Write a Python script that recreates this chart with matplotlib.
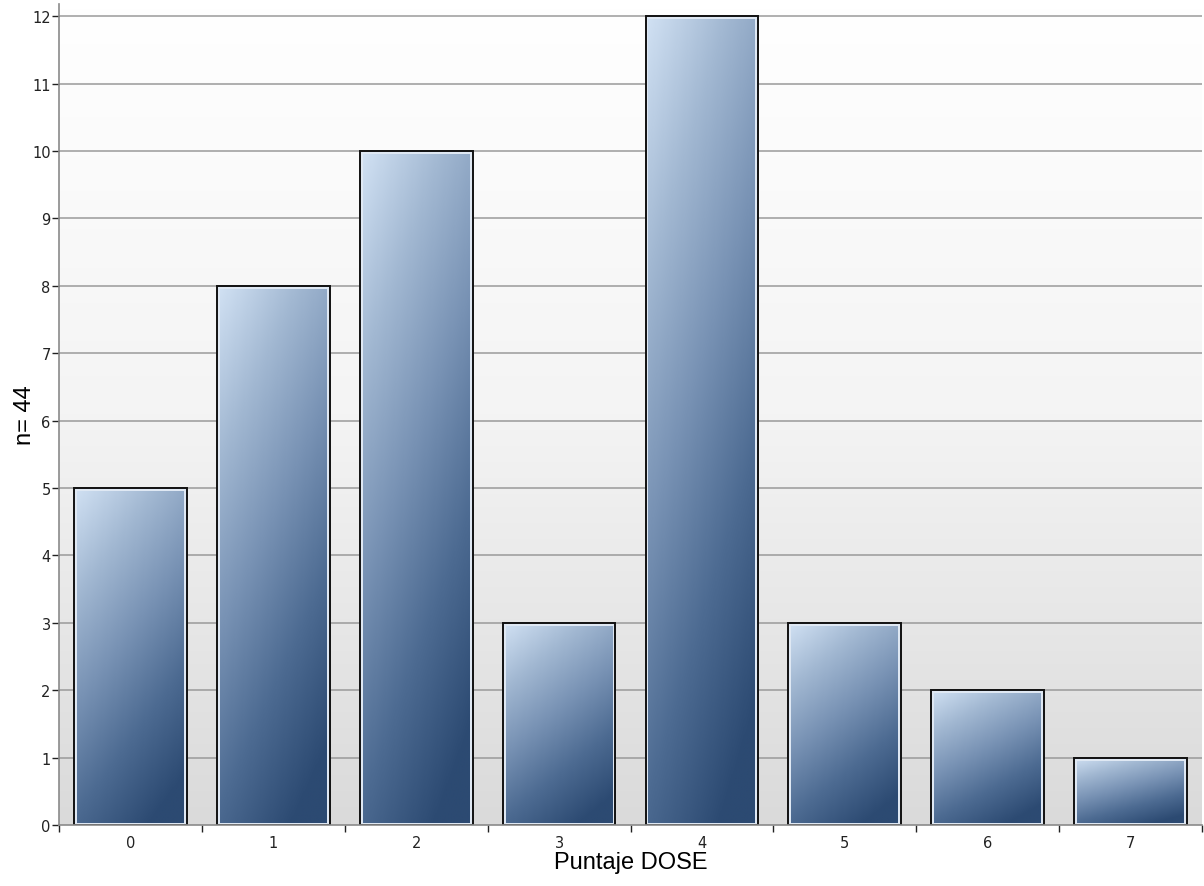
import numpy as np
import matplotlib.pyplot as plt
from matplotlib.patches import Rectangle
from matplotlib.colors import LinearSegmentedColormap

# data
categories = ["0", "1", "2", "3", "4", "5", "6", "7"]
counts = [5, 8, 10, 3, 12, 3, 2, 1]
yticks = list(range(0, 13))

fig = plt.figure(figsize=(12.04, 8.87), dpi=100)
ax = fig.add_axes([59 / 1204, 1 - 826 / 887, 1143 / 1204, 821 / 887])

n = len(categories)
x = np.arange(n)
ytop = 12.18
ax.set_xlim(-0.5, n - 0.5)
ax.set_ylim(0, ytop)

# background gradient: white at top to light gray at bottom
bg = np.linspace(0, 1, 256).reshape(-1, 1)
bgmap = LinearSegmentedColormap.from_list("bg", ["#ffffff", "#f4f4f4", "#dadada"])
ax.imshow(bg, cmap=bgmap, extent=[-0.5, n - 0.5, 0, ytop], origin="upper",
          aspect="auto", zorder=0, interpolation="bicubic")

# grid lines
for yv in yticks[1:]:
    ax.axhline(yv, color="#9a9a9a", lw=1.1, zorder=1)

# bar gradient colormap (light top-left -> dark bottom-right)
barmap = LinearSegmentedColormap.from_list(
    "bar", ["#d2e2f4", "#a2b8d2", "#7892b4", "#4d6b92", "#2c4a72"])
u = np.linspace(0, 1, 100)
v = np.linspace(0, 1, 200)
U, V = np.meshgrid(u, v)
S = np.clip((0.45 * U + V) / 1.3, 0, 1)

width = 0.79
dx = 3 / 143.0
dy = 3 / 67.4
for xi, h in zip(x, counts):
    left = xi - width / 2
    outer = Rectangle((left, 0), width, h, facecolor="#dfe8f3",
                      edgecolor="#111111", lw=1.4, zorder=2)
    ax.add_patch(outer)
    inner = Rectangle((left + dx, dy * 0.6), width - 2 * dx, h - dy * 1.6,
                      facecolor="none", edgecolor="none", zorder=3)
    ax.add_patch(inner)
    im = ax.imshow(S, cmap=barmap, vmin=0, vmax=1, extent=[left, left + width, 0, h],
                   origin="upper", aspect="auto", zorder=3, interpolation="bilinear")
    im.set_clip_path(inner)

ax.set_xlim(-0.5, n - 0.5)
ax.set_ylim(0, ytop)

# axes styling
for side in ["top", "right"]:
    ax.spines[side].set_visible(False)
for side in ["left", "bottom"]:
    ax.spines[side].set_color("#8a8a8a")
    ax.spines[side].set_linewidth(1.2)
    ax.spines[side].set_zorder(4)

ax.set_yticks(yticks)
ax.set_yticklabels([str(t) for t in yticks])
ax.set_xticks(x)
ax.set_xticklabels(categories)
ax.set_xticks(np.arange(-0.5, n, 1.0), minor=True)
ax.tick_params(axis="x", which="major", length=0, pad=7, labelsize=10.5, colors="#222222")
ax.tick_params(axis="x", which="minor", length=5, width=1, colors="#222222", direction="out")
ax.tick_params(axis="y", which="major", length=5, width=1, pad=1, labelsize=10.5,
               colors="#222222", direction="out")

ax.set_xlabel("Puntaje DOSE", fontsize=17, family="Liberation Sans", labelpad=1)
ax.set_ylabel("n= 44", fontsize=17, family="Liberation Sans", labelpad=-3)

fig.savefig("out.png", dpi=100)
